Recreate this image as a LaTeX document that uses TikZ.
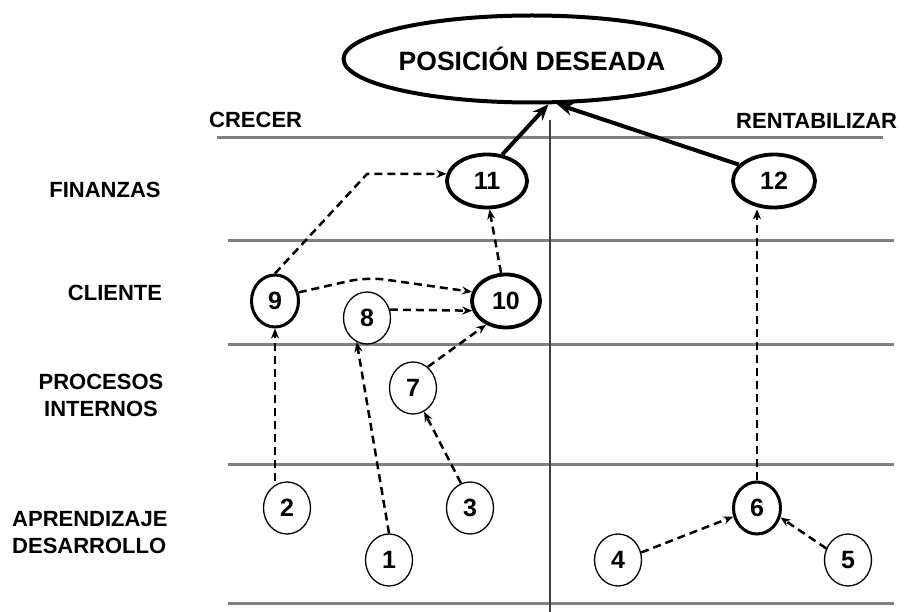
\documentclass[tikz,border=0pt]{standalone}
\usepackage{fontspec}
\setmainfont{Liberation Sans}
\usetikzlibrary{shapes.geometric,arrows.meta}
\begin{document}
\begin{tikzpicture}[x=1pt,y=-1pt,
  lbl/.style={font=\fontsize{22}{27}\selectfont\bfseries, inner sep=0pt},
  band/.style={draw=black!50, line width=3pt},
  axis/.style={draw=black!75, line width=1.6pt},
  thinc/.style={ellipse, draw, line width=1.3pt, minimum width=47pt, minimum height=52pt, inner sep=0pt, font=\fontsize{25}{25}\selectfont\bfseries},
  midc/.style={thinc, line width=3pt},
  thickc/.style={thinc, line width=3.8pt},
  dlink/.style={draw, line width=2.5pt, dash pattern=on 8pt off 5pt, -{Stealth[length=10pt,width=8pt]}},
  slink/.style={draw, line width=4pt, -{Stealth[length=16pt,width=13pt]}}
]
\useasboundingbox (0,0) rectangle (906,612);
% goal
\node[ellipse, draw, line width=4pt, minimum width=333pt, minimum height=87pt, inner sep=0pt,
  font=\fontsize{26.5}{26.5}\selectfont\bfseries] (P) at (532,59) {POSICIÓN DESEADA};
% band lines
\coordinate (h1a) at (217,138); \coordinate (h1b) at (883,138);
\coordinate (h2a) at (228,241); \coordinate (h2b) at (894,241);
\coordinate (h3a) at (228,345); \coordinate (h3b) at (894,345);
\coordinate (h4a) at (228,465); \coordinate (h4b) at (894,465);
\coordinate (h5a) at (228,603); \coordinate (h5b) at (894,603);
\draw[band] (h1a) -- (h1b);
\draw[band] (h2a) -- (h2b);
\draw[band] (h3a) -- (h3b);
\draw[band] (h4a) -- (h4b);
\draw[band] (h5a) -- (h5b);
\coordinate (vt) at (550,120); \coordinate (vb) at (550,612);
\draw[axis] (vt) -- (vb);
% headers
\node[lbl, anchor=west] (crecer) at (209,120) {CRECER};
\node[lbl, anchor=west] (rent) at (736,121) {RENTABILIZAR};
\node[lbl] (fin) at (105,190) {FINANZAS};
\node[lbl] (cli) at (115,293) {CLIENTE};
\node[lbl, align=center] (proc) at (101,395) {PROCESOS\\INTERNOS};
\node[lbl, align=left, anchor=west] (apr) at (12,533) {APRENDIZAJE\\DESARROLLO};
% nodes
\node[thickc, minimum width=80pt, minimum height=53pt] (n11) at (487,181) {11};
\node[thickc, minimum width=82pt, minimum height=53pt] (n12) at (774,181) {12};
\node[thickc, minimum width=68pt, minimum height=53pt] (n10) at (506,301) {10};
\node[midc] (n9) at (275,301) {9};
\node[thinc] (n8) at (367,318) {8};
\node[thinc] (n7) at (413,388) {7};
\node[thinc] (n2) at (287,508) {2};
\node[thinc] (n3) at (470,508) {3};
\node[thinc] (n1) at (389,560) {1};
\node[midc] (n6) at (757,508) {6};
\node[thinc] (n4) at (618,560) {4};
\node[thinc] (n5) at (848,560) {5};
% connectors
\coordinate (c911) at (367,174);
\coordinate (c910) at (367,277);
\draw[dlink] (n9.north) -- (c911) -- (n11.170);
\draw[dlink, rounded corners=18pt] (n9.20) -- (c910) -- (n10.165);
\draw[dlink] (n8.20) -- (n10.196);
\draw[dlink] (n7.55) -- (n10.230);
\draw[dlink] (n10.100) -- (n11.-85);
\draw[dlink] (n9.south |- n2.north) -- (n9.south);
\draw[dlink] (n1.north) -- (n8.-113);
\draw[dlink] (n3.110) -- (n7.-65);
\draw[dlink] (n6.north) -- (n6.north |- n12.south);
\draw[dlink] (n4.18) -- (n6.200);
\draw[dlink] (n5.152) -- (n6.-22);
\draw[slink] (n11.60) -- (P.-70);
\draw[slink] (n12.155) -- (P.-61);
\end{tikzpicture}
\end{document}
